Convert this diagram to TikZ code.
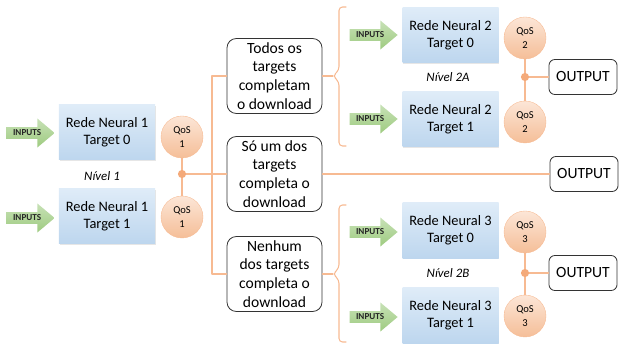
\documentclass[tikz,border=0pt]{standalone}
\usepackage{fontspec}
\setmainfont{Carlito}
\usepackage{tikz}
\usetikzlibrary{positioning}
\usetikzlibrary{shapes.arrows,shadows}
\definecolor{RedeTopo}{RGB}{223,236,248}
\definecolor{RedeBase}{RGB}{189,214,238}
\definecolor{QosTopo}{RGB}{252,230,215}
\definecolor{QosBase}{RGB}{245,190,152}
\definecolor{LigaCor}{RGB}{247,186,146}
\definecolor{PontoCor}{RGB}{244,170,122}
\definecolor{SetaTopo}{RGB}{199,225,182}
\definecolor{SetaBase}{RGB}{158,203,128}
\tikzset{
	rede/.style={rectangle, minimum width=2.88cm, minimum height=1.65cm, align=center,
		top color=RedeTopo, bottom color=RedeBase, draw=none,
		drop shadow={opacity=0.2, shadow xshift=0.8pt, shadow yshift=-1.2pt},
		font=\fontsize{12.3}{14.5}\selectfont},
	qos/.style={circle, minimum size=1.26cm, inner sep=0pt, align=center,
		top color=QosTopo, bottom color=QosBase, draw=LigaCor, line width=0.3pt,
		font=\fontsize{9}{12}\selectfont},
	entrada/.style={single arrow, minimum height=1.44cm, inner sep=2.3pt,
		single arrow head extend=7.3pt, single arrow tip angle=80,
		top color=SetaTopo, bottom color=SetaBase, draw=none,
		text=black!85, font=\fontsize{7.8}{9}\selectfont\bfseries},
	decisao/.style={rectangle, draw=black!80, line width=0.7pt, rounded corners=8pt,
		minimum width=2.85cm, minimum height=2.25cm, inner sep=0pt, align=center,
		fill=white, font=\fontsize{13.3}{16}\selectfont},
	saida/.style={rectangle, draw=black!80, line width=0.7pt, rounded corners=5pt,
		minimum width=2.04cm, minimum height=1.05cm, inner sep=0pt,
		fill=white, font=\fontsize{13.3}{16}\selectfont},
	juncao/.style={circle, fill=PontoCor, minimum size=7pt, inner sep=0pt},
	liga/.style={LigaCor, line width=0.9pt},
	chave/.style={LigaCor, line width=0.9pt, rounded corners=3pt},
	nivel/.style={font=\fontsize{11}{13}\selectfont\itshape}
}

\begin{document}
\begin{tikzpicture}[x=0.03cm, y=-0.03cm, line cap=round, line join=round]
	\useasboundingbox (0,0) rectangle (619,347);
	
	% Nivel 1
	\node[entrada, anchor=tip] (in1a) at (55,133) {INPUTS};
	\node[entrada, anchor=tip] (in1b) at (55,218) {INPUTS};
	\node[rede] (rede1a) at (107,132.5) {Rede Neural 1\\Target 0};
	\node[rede] (rede1b) at (107,216) {Rede Neural 1\\Target 1};
	\node[nivel] (niv1) at (102,176) {Nível 1};
	\node[qos] (qos1a) at (182,137) {QoS\\1};
	\node[qos] (qos1b) at (182,217) {QoS\\1};
	\node[juncao] (j1) at (182,174) {};
	
	% Decisoes
	\node[decisao] (dec1) at (274.5,76) {Todos os\\targets\\completam\\o download};
	\node[decisao] (dec2) at (274.5,174) {Só um dos\\targets\\completa o\\download};
	\node[decisao] (dec3) at (274.5,274) {Nenhum\\dos targets\\completa o\\download};
	\coordinate (tronco) at (212,174);
	\coordinate (chave2) at (333,76);
	\coordinate (chave3) at (333,274);
	
	% Nivel 2A
	\node[entrada, anchor=tip] (in2a) at (398,35) {INPUTS};
	\node[entrada, anchor=tip] (in2b) at (398,119) {INPUTS};
	\node[rede] (rede2a) at (450.5,35) {Rede Neural 2\\Target 0};
	\node[rede] (rede2b) at (450.5,119.5) {Rede Neural 2\\Target 1};
	\node[nivel] (niv2a) at (448,77) {Nível 2A};
	\node[qos] (qos2a) at (525,38) {QoS\\2};
	\node[qos] (qos2b) at (525,122) {QoS\\2};
	\node[juncao] (j2) at (525,77) {};
	\node[saida] (out2a) at (583,77) {OUTPUT};
	
	% Saida do meio
	\node[saida] (out1) at (584,174) {OUTPUT};
	
	% Nivel 2B
	\node[entrada, anchor=tip] (in3a) at (398,232) {INPUTS};
	\node[entrada, anchor=tip] (in3b) at (398,317) {INPUTS};
	\node[rede] (rede3a) at (450.5,230.5) {Rede Neural 3\\Target 0};
	\node[rede] (rede3b) at (450.5,315.5) {Rede Neural 3\\Target 1};
	\node[nivel] (niv2b) at (448,273) {Nível 2B};
	\node[qos] (qos3a) at (525,232) {QoS\\3};
	\node[qos] (qos3b) at (525,316) {QoS\\3};
	\node[juncao] (j3) at (525,273) {};
	\node[saida] (out2b) at (583,273) {OUTPUT};
	
	% Ligacoes
	\draw[liga] (qos1a) -- (j1) -- (qos1b);
	\draw[liga] (j1) -- (dec2);
	\draw[liga] (dec1.west) -| (tronco) |- (dec3.west);
	\draw[liga] (dec2) -- (out1);
	\draw[liga] (dec1) -- (chave2);
	\draw[liga] (dec3) -- (chave3);
	\draw[liga] (qos2a) -- (j2) -- (qos2b);
	\draw[liga] (j2) -- (out2a);
	\draw[liga] (qos3a) -- (j3) -- (qos3b);
	\draw[liga] (j3) -- (out2b);
	
	% Chaves
	\draw[chave] (346,7) -- (339,7) -- (339,70) -- (chave2) -- (339,82) -- (339,146) -- (346,146);
	\draw[chave] (346,205) -- (339,205) -- (339,268) -- (chave3) -- (339,280) -- (339,342) -- (346,342);
\end{tikzpicture}
\end{document}
